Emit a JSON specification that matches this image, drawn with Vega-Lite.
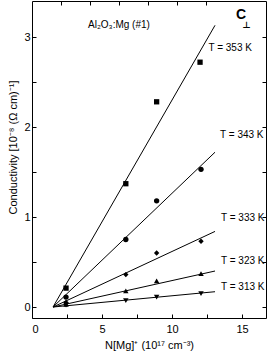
{
  "$schema": "https://vega.github.io/schema/vega-lite/v6.json",
  "width": 234,
  "height": 317,
  "autosize": {"type": "none"},
  "padding": {"left": 32, "top": 1, "right": 2, "bottom": 43},
  "config": {
    "view": {"stroke": "black", "strokeWidth": 1},
    "font": "Liberation Sans",
    "axis": {
      "grid": false, "domain": false, "tickColor": "black", "labelColor": "black",
      "titleColor": "black", "labelFont": "Liberation Sans", "titleFont": "Liberation Sans",
      "labelFontSize": 11, "titleFontSize": 11, "titleFontWeight": "normal", "tickSize": -4
    }
  },
  "datasets": {
    "lines": [
      {"series": "353", "n": 1.5, "c": 0}, {"series": "353", "n": 13.07, "c": 3.13},
      {"series": "343", "n": 1.5, "c": 0}, {"series": "343", "n": 13.07, "c": 1.72},
      {"series": "333", "n": 1.5, "c": 0}, {"series": "333", "n": 13.07, "c": 0.84},
      {"series": "323", "n": 1.5, "c": 0}, {"series": "323", "n": 13.07, "c": 0.40},
      {"series": "313", "n": 1.5, "c": 0}, {"series": "313", "n": 13.07, "c": 0.17}
    ],
    "points": [
      {"series": "353", "n": 2.43, "c": 0.21}, {"series": "353", "n": 6.7, "c": 1.37},
      {"series": "353", "n": 8.9, "c": 2.28}, {"series": "353", "n": 12.0, "c": 2.72},
      {"series": "343", "n": 2.43, "c": 0.11}, {"series": "343", "n": 6.7, "c": 0.75},
      {"series": "343", "n": 8.9, "c": 1.18}, {"series": "343", "n": 12.07, "c": 1.53},
      {"series": "333", "n": 2.43, "c": 0.05}, {"series": "333", "n": 6.7, "c": 0.36},
      {"series": "333", "n": 8.9, "c": 0.60}, {"series": "333", "n": 12.07, "c": 0.73},
      {"series": "323", "n": 2.43, "c": 0.03}, {"series": "323", "n": 6.7, "c": 0.18},
      {"series": "323", "n": 8.9, "c": 0.29}, {"series": "323", "n": 12.07, "c": 0.37},
      {"series": "313", "n": 2.43, "c": 0.02}, {"series": "313", "n": 6.7, "c": 0.07},
      {"series": "313", "n": 8.9, "c": 0.11}, {"series": "313", "n": 12.07, "c": 0.15}
    ],
    "labels": [
      {"n": 12.6, "c": 2.88, "t": "T = 353 K"},
      {"n": 13.43, "c": 1.91, "t": "T = 343 K"},
      {"n": 13.5, "c": 0.99, "t": "T = 333 K"},
      {"n": 13.5, "c": 0.51, "t": "T = 323 K"},
      {"n": 13.5, "c": 0.22, "t": "T = 313 K"},
      {"n": 4.0, "c": 3.13, "t": "Al₂O₃:Mg (#1)"}
    ],
    "cl": [{"n": 14.57, "c": 3.25, "t": "C"}],
    "perp": [{"n": 15.3, "c": 3.13, "t": "⊥"}]
  },
  "layer": [
    {
      "data": {"name": "lines"},
      "mark": {"type": "line", "color": "black", "strokeWidth": 1},
      "encoding": {
        "x": {"field": "n", "type": "quantitative",
          "scale": {"domain": [0, 16.71], "nice": false, "zero": false},
          "axis": {"orient": "bottom", "values": [0, 2.5, 5, 7.5, 10, 12.5, 15],
            "labelExpr": "datum.value % 5 === 0 ? format(datum.value, 'd') : ''",
            "labelPadding": 9, "title": "N[Mg]⁺  (10¹⁷ cm⁻³)", "titlePadding": 5}},
        "y": {"field": "c", "type": "quantitative",
          "scale": {"domain": [-0.122, 3.4], "nice": false, "zero": false},
          "axis": {"orient": "left", "values": [0, 0.5, 1, 1.5, 2, 2.5, 3],
            "labelExpr": "datum.value % 1 === 0 ? format(datum.value, 'd') : ''",
            "labelPadding": 6, "title": "Conductivity  [10⁻⁸ (Ω cm)⁻¹]", "titlePadding": 5, "titleY": 146}},
        "detail": {"field": "series"}
      }
    },
    {
      "data": {"name": "points"},
      "mark": {"type": "point", "filled": true, "color": "black", "opacity": 1},
      "encoding": {
        "x": {"field": "n", "type": "quantitative",
          "axis": {"orient": "top", "values": [2.07, 4.14, 6.21, 8.29, 10.36, 12.43], "labels": false, "title": null}},
        "y": {"field": "c", "type": "quantitative",
          "axis": {"orient": "right", "values": [0, 0.5, 1, 1.5, 2, 2.5, 3], "labels": false, "title": null}},
        "shape": {"field": "series", "type": "nominal", "legend": null,
          "scale": {"domain": ["353", "343", "333", "323", "313"],
            "range": ["square", "circle", "diamond", "triangle-up", "triangle-down"]}},
        "size": {"field": "series", "type": "nominal", "legend": null,
          "scale": {"domain": ["353", "343", "333", "323", "313"],
            "range": [28, 30, 60, 36, 36]}}
      }
    },
    {
      "data": {"name": "labels"},
      "mark": {"type": "text", "align": "left", "baseline": "middle", "fontSize": 10, "color": "black", "font": "Liberation Sans"},
      "encoding": {
        "x": {"field": "n", "type": "quantitative", "axis": null},
        "y": {"field": "c", "type": "quantitative", "axis": null},
        "text": {"field": "t"}
      }
    },
    {
      "data": {"name": "cl"},
      "mark": {"type": "text", "align": "left", "baseline": "middle", "fontSize": 14, "fontWeight": "bold", "color": "black", "font": "Liberation Sans"},
      "encoding": {
        "x": {"field": "n", "type": "quantitative", "axis": null},
        "y": {"field": "c", "type": "quantitative", "axis": null},
        "text": {"field": "t"}
      }
    },
    {
      "data": {"name": "perp"},
      "mark": {"type": "text", "align": "center", "baseline": "middle", "fontSize": 9, "fontWeight": "bold", "color": "black", "font": "DejaVu Sans"},
      "encoding": {
        "x": {"field": "n", "type": "quantitative", "axis": null},
        "y": {"field": "c", "type": "quantitative", "axis": null},
        "text": {"field": "t"}
      }
    }
  ],
  "resolve": {"axis": {"x": "independent", "y": "independent"}}
}
